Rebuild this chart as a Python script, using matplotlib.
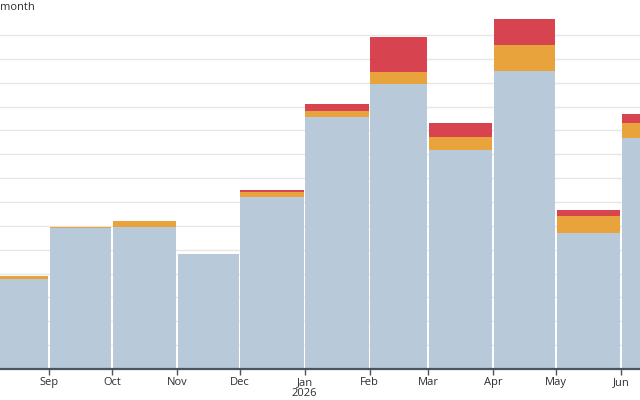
import matplotlib
matplotlib.use("Agg")
import matplotlib.pyplot as plt
import matplotlib.dates as mdates
import datetime as dt
import numpy as np

plt.rcParams['font.family'] = ['Open Sans', 'DejaVu Sans']

months = ["2025-08", "2025-09", "2025-10", "2025-11", "2025-12", "2026-01",
          "2026-02", "2026-03", "2026-04", "2026-05", "2026-06"]
base = [3.77, 5.91, 5.95, 4.82, 7.21, 10.57, 11.94, 9.18, 12.49, 5.69, 9.67]
mid = [0.12, 0.05, 0.25, 0.0, 0.21, 0.25, 0.49, 0.53, 1.09, 0.74, 0.63]
top = [0.0, 0.0, 0.0, 0.0, 0.08, 0.29, 1.49, 0.61, 1.09, 0.24, 0.38]
tick_labels = ["Sep", "Oct", "Nov", "Dec", "Jan\n2026", "Feb", "Mar", "Apr", "May", "Jun"]

c_base = "#b8c9d9"
c_mid = "#e8a33d"
c_top = "#d7434f"

starts = [dt.date(int(m[:4]), int(m[5:]), 1) for m in months]
ends = [dt.date(s.year + (s.month // 12), s.month % 12 + 1, 1) for s in starts]
gap = 0.7
x = mdates.date2num(starts) + gap / 2
w = np.array([(e - s).days for s, e in zip(starts, ends)]) - gap
b = np.array(base)
m_ = np.array(mid)
t = np.array(top)

fig = plt.figure(figsize=(6.4, 4.0), dpi=100)
ax = fig.add_axes([0.0, 31 / 400, 1.0, 369 / 400])

ax.bar(x, b, width=w, align='edge', color=c_base, zorder=2, linewidth=0)
ax.bar(x, m_, width=w, bottom=b, align='edge', color=c_mid, zorder=2, linewidth=0)
ax.bar(x, t, width=w, bottom=b + m_, align='edge', color=c_top, zorder=2, linewidth=0)

ax.set_xlim(mdates.date2num(dt.date(2025, 8, 8)) + 0.6,
            mdates.date2num(dt.date(2026, 6, 10)) + 0.1)
ax.set_ylim(0, 369 / 23.86)

ticks = mdates.date2num([dt.date(2025, 9, 1), dt.date(2025, 10, 1), dt.date(2025, 11, 1),
                         dt.date(2025, 12, 1), dt.date(2026, 1, 1), dt.date(2026, 2, 1),
                         dt.date(2026, 3, 1), dt.date(2026, 4, 1), dt.date(2026, 5, 1),
                         dt.date(2026, 6, 1)])
ax.set_xticks(ticks)
ax.set_xticklabels(tick_labels, fontsize=8, color="#2e2e2e", linespacing=0.9)
ax.tick_params(axis='x', length=4, width=1, color="#4a5561", pad=2)

ax.set_yticks(np.arange(1, 15))
ax.tick_params(axis='y', left=False, labelleft=False)
ax.grid(axis='y', color="#e6e6e6", linewidth=1, zorder=0)
ax.set_axisbelow(True)

for s in ['top', 'right', 'left']:
    ax.spines[s].set_visible(False)
ax.spines['bottom'].set_color("#4a5561")
ax.spines['bottom'].set_linewidth(1.6)
ax.spines['bottom'].set_zorder(3)

fig.text(0.0, 1 - 7 / 400, "month", fontsize=8, color="#2e2e2e", ha='left', va='center')

fig.savefig("out.png", dpi=100)
